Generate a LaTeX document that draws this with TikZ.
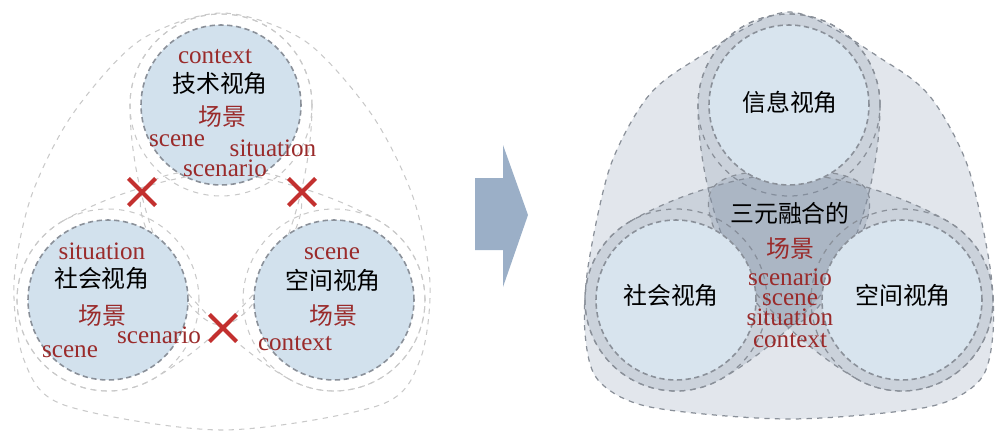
\documentclass[tikz,border=0pt]{standalone}
\usepackage{fontspec}
\setmainfont{Liberation Serif}
\newfontfamily\cjk{Noto Sans CJK SC}
\usetikzlibrary{shapes.misc}
\definecolor{scred}{HTML}{9A2B2B}
\definecolor{xred}{HTML}{C3302F}
\definecolor{lcirc}{HTML}{D2E1ED}
\definecolor{rcirc}{HTML}{D8E4EE}
\definecolor{outerfill}{HTML}{E2E6EC}
\definecolor{bandc}{HTML}{7D8DA3}
\definecolor{dashgray}{HTML}{8A9099}
\definecolor{lightline}{HTML}{C9C9C9}
\definecolor{arrowc}{HTML}{9BAFC7}
\tikzset{view/.style={circle,inner sep=0pt,minimum size=3.2cm,draw=dashgray,densely dashed,line width=0.9pt},
	oldview/.style={view,fill=lcirc},
	newview/.style={view,fill=rcirc},
	en/.style={anchor=base,inner sep=0pt,text=scred,font=\fontsize{14.3}{15}\selectfont},
	zh/.style={anchor=base,inner sep=0pt,font=\cjk\fontsize{13.6}{15}\selectfont},
	zhred/.style={zh,text=scred},
	nofuse/.style={cross out,draw=xred,line width=2.4pt,minimum size=0.46cm,inner sep=0pt},
	faint/.style={draw=lightline,dashed,line width=0.6pt},
	edge/.style={draw=dashgray,dashed,line width=0.7pt},
	band/.style={edge,fill=bandc,fill opacity=0.22}}

\begin{document}
\begin{tikzpicture}[x=0.02cm, y=0.02cm]
\useasboundingbox (0,0) rectangle (1005,437);
% centres of the three views
\coordinate (lt) at (221,332); \coordinate (ll) at (108,137); \coordinate (lr) at (334,137);
\coordinate (rt) at (789,332); \coordinate (rl) at (676,137); \coordinate (rr) at (902,137);

% left: separate views
\draw[faint] plot[smooth cycle] coordinates {(222,424) (305,396) (372,322) (413,240) (430,154) (420,77) (380,32) (222,7) (64,32) (24,77) (14,154) (31,240) (72,322) (139,396)};
\foreach \c/\r in {lt/0, ll/120, lr/240}{
	\draw[faint, shift={(\c)}, rotate=\r] (91,0) arc (0:180:91) .. controls (-91,-100) and (-40,-220) .. (0,-220) .. controls (40,-220) and (91,-100) .. cycle;
	\draw[faint] (\c) circle (91);
}
\node[oldview] (tech) at (lt) {};
\node[oldview] (soc) at (ll) {};
\node[oldview] (spa) at (lr) {};
\node[en] (ctxa) at (215,374) {context};
\node[zh] (techname) at (220,344) {技术视角};
\node[zhred] (scna) at (222,312) {场景};
\node[en] (scea) at (177,291) {scene};
\node[en] (sita) at (273,280) {situation};
\node[en] (scra) at (225,261) {scenario};
\node[en] (sitb) at (102,178) {situation};
\node[zh] (socname) at (102,150) {社会视角};
\node[zhred] (scnb) at (102,113) {场景};
\node[en] (scrb) at (159,94) {scenario};
\node[en] (sceb) at (70,80) {scene};
\node[en] (scec) at (332,178) {scene};
\node[zh] (spaname) at (333,148) {空间视角};
\node[zhred] (scnc) at (333,113) {场景};
\node[en] (ctxc) at (295,87) {context};
\node[nofuse] (xa) at (142,245) {};
\node[nofuse] (xb) at (302,245) {};
\node[nofuse] (xc) at (223,109) {};

% arrow
\fill[arrowc] (475,259) -- (503,259) -- (503,292) -- (528,222) -- (503,150) -- (503,187) -- (475,187) -- cycle;

% right: fused views
\draw[edge, fill=outerfill] plot[smooth cycle] coordinates {(789,425) (690,374) (646,338) (610,270) (588,170) (585,104) (598,57) (650,30) (789,18) (928,30) (980,57) (993,104) (990,170) (968,270) (932,338) (888,374)};
\foreach \c/\r in {rt/0, rl/120, rr/240}{
	\draw[band, shift={(\c)}, rotate=\r] (91,0) arc (0:180:91) .. controls (-91,-100) and (-40,-220) .. (0,-220) .. controls (40,-220) and (91,-100) .. cycle;
	\draw[edge] (\c) circle (91);
}
\node[newview] (info) at (rt) {};
\node[newview] (socr) at (rl) {};
\node[newview] (spar) at (rr) {};
\node[zh] (infoname) at (790,326) {信息视角};
\node[zh] (socrname) at (671,133) {社会视角};
\node[zh] (sparname) at (903,133) {空间视角};
\node[zh] (fuse) at (790,215) {三元融合的};
\node[zhred] (scnd) at (790,180) {场景};
\node[en] (scrd) at (790,152) {scenario};
\node[en] (sced) at (790,132) {scene};
\node[en] (sitd) at (790,112) {situation};
\node[en] (ctxd) at (790,90) {context};
\end{tikzpicture}
\end{document}
